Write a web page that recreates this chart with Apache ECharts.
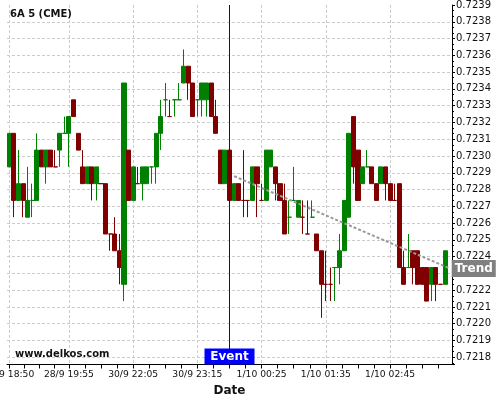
<!DOCTYPE html>
<html><head><meta charset="utf-8">
<script src="https://cdn.jsdelivr.net/npm/echarts@6/dist/echarts.min.js"></script>
<style>html,body{margin:0;padding:0;background:#fff}#c{width:500px;height:400px}</style>
</head><body><div id="c"></div>
<script>
// ---- data ----
const opens = [0.722935,0.723135,0.722735,0.722835,0.722635,0.722735,0.722735,0.723035,0.722935,0.723035,
0.722935,0.723035,0.723135,0.723135,0.723335,0.723135,0.722935,0.722835,0.722935,0.722835,
0.722835,0.722835,0.722535,0.722535,0.722435,0.722235,0.723035,0.722735,0.722835,0.722835,
0.722835,0.722935,0.722935,0.723135,0.723335,0.723235,0.723335,0.723335,0.723435,0.723535,
0.723435,0.723335,0.723335,0.723335,0.723435,0.723235,0.723035,0.722835,0.723035,0.722735,
0.722835,0.722735,0.722735,0.722735,0.722935,0.722735,0.722735,0.722935,0.722935,0.722835,
0.722735,0.722635,0.722735,0.722635,0.722635,0.722535,0.722635,0.722535,0.722435,0.722235,
0.722235,0.722335,0.722335,0.722435,0.722635,0.723235,0.723035,0.722835,0.722935,0.722935,
0.722835,0.722835,0.722935,0.722835,0.722735,0.722835,0.722335,0.722335,0.722435,0.722435,
0.722335,0.722335,0.722235,0.722335,0.722235,0.722235];
const closes = [0.723135,0.722735,0.722835,0.722735,0.722735,0.722735,0.723035,0.722935,0.723035,0.722935,
0.722935,0.723135,0.723135,0.723235,0.723235,0.723035,0.722835,0.722935,0.722835,0.722935,
0.722835,0.722535,0.722535,0.722435,0.722335,0.723435,0.722735,0.722935,0.722835,0.722935,
0.722935,0.722935,0.723135,0.723235,0.723335,0.723235,0.723335,0.723335,0.723535,0.723435,
0.723235,0.723335,0.723435,0.723435,0.723235,0.723135,0.722835,0.723035,0.722735,0.722835,
0.722735,0.722735,0.722735,0.722935,0.722835,0.722735,0.723035,0.723035,0.722835,0.722735,
0.722535,0.722635,0.722735,0.722735,0.722635,0.722535,0.722635,0.722435,0.722235,0.722235,
0.722235,0.722335,0.722435,0.722735,0.723135,0.722935,0.722735,0.722935,0.722935,0.722835,
0.722735,0.722935,0.722835,0.722735,0.722735,0.722335,0.722235,0.722335,0.722335,0.722235,
0.722235,0.722135,0.722335,0.722235,0.722235,0.722435];
const lows = [0.722935,0.722635,0.722735,0.722635,0.722635,0.722635,0.722735,0.722935,0.722835,0.722935,
0.722935,0.722935,0.723135,0.722935,0.723235,0.723035,0.722835,0.722835,0.722735,0.722735,
0.722835,0.722535,0.722435,0.722435,0.722235,0.722135,0.722735,0.722735,0.722835,0.722735,
0.722835,0.722835,0.722835,0.723035,0.723235,0.723235,0.723235,0.723335,0.723435,0.723335,
0.723235,0.723235,0.723235,0.723235,0.723235,0.723135,0.722835,0.722835,0.722735,0.722735,
0.722735,0.722635,0.722635,0.722735,0.722635,0.722735,0.722735,0.722935,0.722735,0.722735,
0.722535,0.722535,0.722735,0.722635,0.722535,0.722535,0.722635,0.722435,0.722035,0.722135,
0.722135,0.722135,0.722235,0.722435,0.722635,0.722835,0.722735,0.722835,0.722935,0.722835,
0.722735,0.722835,0.722735,0.722735,0.722735,0.722335,0.722235,0.722335,0.722235,0.722235,
0.722235,0.722135,0.722135,0.722135,0.722235,0.722235];
const highs = [0.723135,0.723135,0.723035,0.722835,0.722935,0.722835,0.723135,0.723035,0.723035,0.723035,
0.723035,0.723135,0.723235,0.723235,0.723335,0.723135,0.723035,0.722935,0.722935,0.722935,
0.722835,0.722835,0.722535,0.722635,0.722535,0.723435,0.723035,0.722935,0.722935,0.722935,
0.722935,0.722935,0.723135,0.723335,0.723435,0.723335,0.723335,0.723435,0.723635,0.723535,
0.723435,0.723335,0.723435,0.723435,0.723435,0.723335,0.723035,0.723035,0.723035,0.722835,
0.722835,0.723035,0.722735,0.722935,0.722935,0.722835,0.723035,0.723035,0.722935,0.722835,
0.722835,0.722735,0.722935,0.722735,0.722735,0.722735,0.722735,0.722535,0.722435,0.722435,
0.722335,0.722335,0.722535,0.722735,0.723135,0.723235,0.723035,0.722935,0.723035,0.722935,
0.722835,0.722935,0.722935,0.722835,0.722835,0.722835,0.722435,0.722535,0.722435,0.722435,
0.722335,0.722335,0.722335,0.722335,0.722235,0.722435];
// doji bars (open == close) drawn in the "up" colour
const upDoji = [5,12,31,34,36,37,41,61,62,66,71,78,87];
const slotCount = 97;          // bar slots on the axis (last slot still empty)
const tickLabels = ['28/9 18:50','28/9 19:55','30/9 22:05','30/9 23:15','1/10 00:25','1/10 01:35','1/10 02:45'];
const tickLabelBar = [0,13,27,41,55,69,83];
const minorTickBar = [0,3.25,6.5,9.75,13,16.5,20,23.5,27,30.5,34,37.5,41,44.5,48,51.5,55,58.5,62,65.5,69,72.5,76,79.5,83,86.5,90,93.5];
const eventBar = 48;
const trendStart = [49, 0.72288];
const trendEnd = [96, 0.72233];
const yMin = 0.721757, yMax = 0.7239;

// ---- build ----
const UP = '#008000', DOWN = '#800000';
const slots = [];
for (let i = 0; i < slotCount; i++) slots.push(String(i));
const upSet = new Set(upDoji);
const candleData = opens.map((o, i) => {
  const item = { value: [o, closes[i], lows[i], highs[i]] };
  if (o === closes[i]) {
    const c = upSet.has(i) ? UP : DOWN;
    item.itemStyle = { color: c, color0: c, borderColor: c, borderColor0: c, borderColorDoji: c };
  }
  return item;
});
const SUB = 4;
const auxCats = new Array(SUB * slotCount + 1).fill('');
const labelSet = new Set(), tickSet = new Set();
tickLabelBar.forEach((b, k) => { const j = SUB * b + SUB / 2; auxCats[j] = tickLabels[k]; labelSet.add(j); });
minorTickBar.forEach(b => tickSet.add(Math.round(SUB * b + SUB / 2)));
const trendData = new Array(slotCount).fill(null);
trendData[trendStart[0]] = trendStart[1];
trendData[trendEnd[0]] = trendEnd[1];

const FONT = 'DejaVu Sans';
const chart = echarts.init(document.getElementById('c'), null, { renderer: 'canvas' });
chart.setOption({
  animation: false,
  backgroundColor: '#fff',
  textStyle: { fontFamily: FONT },
  title: [
    { text: '6A 5 (CME)', left: 10, top: 9, padding: 0, textStyle: { fontSize: 10, fontWeight: 'bold', color: '#111', fontFamily: FONT } },
    { text: 'www.delkos.com', left: 15, top: 349, padding: 0, textStyle: { fontSize: 10, fontWeight: 'bold', color: '#111', fontFamily: FONT } }
  ],
  grid: { left: 7, right: 48, top: 5, bottom: 35.5, containLabel: false, outerBoundsMode: 'none' },
  xAxis: [
    { type: 'category', data: slots, boundaryGap: true, show: false, position: 'top' },
    { type: 'category', data: auxCats, boundaryGap: false, position: 'bottom',
      name: 'Date', nameLocation: 'middle', nameGap: 18,
      nameTextStyle: { fontSize: 12, fontWeight: 'bold', color: '#111', fontFamily: FONT },
      axisLine: { show: true, lineStyle: { color: '#000', width: 1 } },
      axisTick: { show: true, interval: (idx) => tickSet.has(idx), length: 4, lineStyle: { color: '#000' } },
      axisLabel: { interval: (idx) => labelSet.has(idx), fontSize: 9.2, color: '#111', margin: 6, fontFamily: FONT },
      splitLine: { show: true, interval: (idx) => labelSet.has(idx), lineStyle: { color: '#cccccc', type: [3, 2] } }
    }
  ],
  yAxis: {
    type: 'value', position: 'right', min: yMin, max: yMax, splitNumber: 21,
    axisLine: { show: true, lineStyle: { color: '#000' } },
    axisTick: { show: true, length: 3, lineStyle: { color: '#000' } },
    minorTick: { show: true, splitNumber: 3, length: 2, lineStyle: { color: '#000' } },
    axisLabel: { fontSize: 10, color: '#111', margin: 4, showMinLabel: false, fontFamily: FONT,
      formatter: (v) => v.toFixed(4) },
    splitLine: { show: true, showMinLine: false, showMaxLine: false, lineStyle: { color: '#cccccc', type: [3, 2] } }
  },
  series: [
    { type: 'candlestick', xAxisIndex: 0, yAxisIndex: 0, barWidth: 4.6, data: candleData,
      itemStyle: { color: UP, color0: DOWN, borderColor: UP, borderColor0: DOWN, borderWidth: 1 },
      markLine: { silent: true, symbol: ['none', 'none'], label: { show: false },
        lineStyle: { color: '#0000dd', width: 1, type: 'solid' }, data: [{ xAxis: eventBar }] },
      markPoint: { silent: true, symbol: 'rect', symbolSize: [50, 16], symbolOffset: [0, -8],
        itemStyle: { color: '#0000ff' },
        label: { show: true, position: 'inside', formatter: 'Event', color: '#fff', fontWeight: 'bold', fontSize: 12, fontFamily: FONT },
        data: [{ coord: [eventBar, yMin] }] }
    },
    { type: 'line', xAxisIndex: 0, yAxisIndex: 0, data: trendData, connectNulls: true, symbol: 'none',
      lineStyle: { color: '#999999', width: 2, type: [3, 2] },
      endLabel: { show: true, formatter: 'Trend', backgroundColor: '#808080', color: '#fff', fontWeight: 'bold',
        fontSize: 12, lineHeight: 13, padding: [2, 3, 2, 3], distance: 2, fontFamily: FONT }
    }
  ]
});
</script></body></html>
